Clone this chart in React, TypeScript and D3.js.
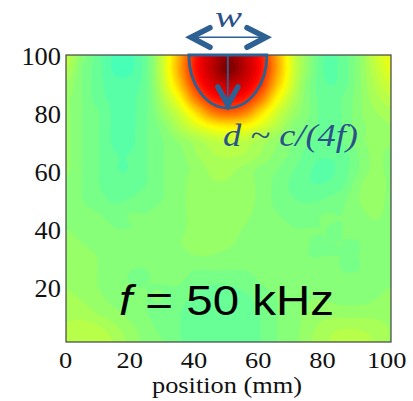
import React from "react";
import * as d3 from "d3";

// ---- data ----
const gridX = [0, 5, 10, 15, 20, 25, 30, 35, 40, 45, 50, 55, 60, 65, 70, 75, 80, 85, 90, 95, 100];
// rows from y = 100 (top) down to y = 0 (bottom), colour-scale value 0..1 (jet)
const gridY = [100, 95, 90, 85, 80, 75, 70, 65, 60, 55, 50, 45, 40, 35, 30, 25, 20, 15, 10, 5, 0];
const field: number[][] = [
  [0.56, 0.51, 0.475, 0.45, 0.45, 0.485, 0.58, 0.71, 0.855, 0.935, 0.98, 0.935, 0.855, 0.71, 0.58, 0.51, 0.465, 0.475, 0.51, 0.57, 0.61],
  [0.55, 0.5, 0.475, 0.45, 0.45, 0.485, 0.58, 0.715, 0.86, 0.94, 1.0, 0.94, 0.86, 0.715, 0.58, 0.51, 0.465, 0.475, 0.51, 0.56, 0.6],
  [0.53, 0.5, 0.475, 0.46, 0.46, 0.485, 0.57, 0.685, 0.83, 0.91, 0.935, 0.91, 0.83, 0.685, 0.57, 0.5, 0.47, 0.475, 0.51, 0.55, 0.58],
  [0.52, 0.5, 0.475, 0.465, 0.465, 0.485, 0.55, 0.63, 0.76, 0.85, 0.87, 0.85, 0.76, 0.63, 0.55, 0.5, 0.475, 0.485, 0.51, 0.54, 0.56],
  [0.52, 0.5, 0.485, 0.465, 0.465, 0.485, 0.53, 0.58, 0.66, 0.75, 0.78, 0.75, 0.66, 0.58, 0.53, 0.5, 0.475, 0.485, 0.51, 0.53, 0.54],
  [0.52, 0.5, 0.485, 0.465, 0.465, 0.485, 0.51, 0.55, 0.59, 0.625, 0.64, 0.625, 0.59, 0.55, 0.51, 0.495, 0.475, 0.485, 0.51, 0.52, 0.53],
  [0.52, 0.5, 0.485, 0.465, 0.465, 0.485, 0.5, 0.52, 0.54, 0.56, 0.57, 0.56, 0.54, 0.52, 0.5, 0.485, 0.475, 0.485, 0.51, 0.52, 0.52],
  [0.52, 0.5, 0.485, 0.47, 0.47, 0.485, 0.5, 0.51, 0.53, 0.545, 0.55, 0.545, 0.53, 0.51, 0.495, 0.475, 0.47, 0.475, 0.5, 0.52, 0.51],
  [0.52, 0.5, 0.485, 0.47, 0.47, 0.485, 0.5, 0.51, 0.52, 0.535, 0.535, 0.525, 0.51, 0.5, 0.485, 0.47, 0.465, 0.475, 0.5, 0.52, 0.51],
  [0.51, 0.5, 0.485, 0.475, 0.475, 0.485, 0.5, 0.51, 0.525, 0.53, 0.53, 0.525, 0.51, 0.495, 0.48, 0.47, 0.47, 0.48, 0.51, 0.53, 0.51],
  [0.51, 0.5, 0.49, 0.48, 0.485, 0.495, 0.5, 0.51, 0.525, 0.53, 0.53, 0.525, 0.51, 0.495, 0.485, 0.48, 0.485, 0.495, 0.515, 0.525, 0.51],
  [0.51, 0.505, 0.5, 0.495, 0.5, 0.5, 0.505, 0.51, 0.525, 0.53, 0.53, 0.52, 0.51, 0.5, 0.495, 0.495, 0.5, 0.5, 0.51, 0.52, 0.51],
  [0.515, 0.51, 0.505, 0.5, 0.5, 0.505, 0.51, 0.51, 0.525, 0.53, 0.525, 0.515, 0.51, 0.505, 0.5, 0.5, 0.5, 0.5, 0.505, 0.51, 0.51],
  [0.52, 0.515, 0.51, 0.505, 0.505, 0.51, 0.51, 0.515, 0.525, 0.525, 0.52, 0.51, 0.51, 0.51, 0.505, 0.5, 0.5, 0.5, 0.5, 0.505, 0.51],
  [0.525, 0.52, 0.515, 0.51, 0.505, 0.505, 0.51, 0.51, 0.515, 0.515, 0.51, 0.51, 0.51, 0.51, 0.505, 0.5, 0.5, 0.5, 0.5, 0.505, 0.51],
  [0.53, 0.525, 0.515, 0.505, 0.5, 0.5, 0.505, 0.505, 0.5, 0.5, 0.5, 0.5, 0.505, 0.51, 0.51, 0.505, 0.505, 0.5, 0.5, 0.505, 0.51],
  [0.53, 0.525, 0.515, 0.505, 0.5, 0.5, 0.5, 0.5, 0.49, 0.485, 0.485, 0.49, 0.5, 0.505, 0.51, 0.51, 0.51, 0.505, 0.505, 0.51, 0.515],
  [0.535, 0.53, 0.52, 0.51, 0.505, 0.5, 0.5, 0.49, 0.48, 0.475, 0.475, 0.48, 0.49, 0.5, 0.51, 0.515, 0.515, 0.51, 0.51, 0.515, 0.52],
  [0.54, 0.54, 0.53, 0.52, 0.51, 0.5, 0.495, 0.485, 0.475, 0.47, 0.47, 0.475, 0.485, 0.5, 0.51, 0.52, 0.525, 0.525, 0.525, 0.525, 0.525],
  [0.55, 0.555, 0.55, 0.535, 0.52, 0.505, 0.495, 0.485, 0.475, 0.47, 0.47, 0.475, 0.485, 0.5, 0.51, 0.525, 0.54, 0.545, 0.545, 0.54, 0.53],
  [0.55, 0.56, 0.56, 0.545, 0.525, 0.51, 0.5, 0.485, 0.475, 0.47, 0.47, 0.475, 0.485, 0.5, 0.51, 0.53, 0.545, 0.555, 0.555, 0.545, 0.53],
];
const xTicks = [0, 20, 40, 60, 80, 100];
const yTicks = [20, 40, 60, 80, 100];
const xLabel = "position (mm)";
const freqLabel = ["f", " = 50 kHz"];
const depthLabel = "d ~ c/(4f)";
const widthLabel = "w";
// annotation geometry in data units (mm)
const spotLeft = 37.8;
const spotRight = 61.8;
const spotCenter = 49.8;
const spotBottom = 81.5;

// ---- layout ----
const W = 413, H = 401;
const L = 66, R = 391, T = 55, B = 342;
const x = d3.scaleLinear().domain([0, 100]).range([L, R]);
const y = d3.scaleLinear().domain([0, 100]).range([B, T]);
const xLab = d3.scaleLinear().domain([0, 100]).range([65.6, 386.7]);
const yLab = d3.scaleLinear().domain([20, 100]).range([288.3, 56.7]);

function jet(t: number) {
  const c = (v: number) => Math.round(255 * Math.max(0, Math.min(1, v)));
  const r = 1.5 - Math.abs(4 * t - 3);
  const g = 1.5 - Math.abs(4 * t - 2);
  const b = 1.5 - Math.abs(4 * t - 1);
  return `rgb(${c(r)},${c(g)},${c(b)})`;
}

function cr(p0: number, p1: number, p2: number, p3: number, t: number) {
  return 0.5 * (2 * p1 + (-p0 + p2) * t + (2 * p0 - 5 * p1 + 4 * p2 - p3) * t * t + (-p0 + 3 * p1 - 3 * p2 + p3) * t * t * t);
}
function sampleField(gx: number, gy: number) {
  const nx = gridX.length, ny = gridY.length;
  const cl = (v: number, n: number) => Math.max(0, Math.min(n - 1, v));
  const ix = Math.floor(gx), iy = Math.floor(gy);
  const fx = gx - ix, fy = gy - iy;
  const rows: number[] = [];
  for (let k = -1; k <= 2; k++) {
    const row = field[cl(iy + k, ny)];
    rows.push(cr(row[cl(ix - 1, nx)], row[cl(ix, nx)], row[cl(ix + 1, nx)], row[cl(ix + 2, nx)], fx));
  }
  return Math.max(0, Math.min(1, cr(rows[0], rows[1], rows[2], rows[3], fy)));
}

const N = 200, M = 200;
function buildRaster() {
  const vals = new Array(N * M);
  const step = 100 / (gridX.length - 1);
  for (let j = 0; j < M; j++) {
    const ymm = 100 - ((j + 0.5) * 100) / M;
    const gy = (100 - ymm) / step;
    for (let i = 0; i < N; i++) {
      const xmm = ((i + 0.5) * 100) / N;
      vals[j * N + i] = sampleField(xmm / step, gy);
    }
  }
  return vals;
}

export default function App() {
  const raster = React.useMemo(buildRaster, []);
  const levels = d3.range(0, 64).map((k) => k / 64);
  const contours = d3.contours().size([N, M]).thresholds(levels)(raster);
  const proj = d3.geoTransform({
    point(px: number, py: number) {
      (this as any).stream.point(L + (px / N) * (R - L), T + (py / M) * (B - T));
    },
  });
  const path = d3.geoPath(proj);
  const blue = "#2e6193";
  const textBlue = "#2b5288";

  const xl = x(spotLeft), xr = x(spotRight), xc = x(spotCenter);
  const rx = (xr - xl) / 2, ry = y(spotBottom) - T;
  const arrowY = 37.3;

  return (
    <div style={{ position: "absolute", left: 0, top: 0 }}>
      <svg width={W} height={H} viewBox={`0 0 ${W} ${H}`}>
        <rect width={W} height={H} fill="#fff" />
        <defs>
          <clipPath id="plotclip">
            <rect x={L} y={T} width={R - L} height={B - T} />
          </clipPath>
        </defs>
        <g clipPath="url(#plotclip)">
          <rect x={L} y={T} width={R - L} height={B - T} fill={jet(0.45)} />
          {contours.map((c, k) => (
            <path key={k} d={path(c as any) || ""} fill={jet(c.value + 1 / 128)} stroke="none" />
          ))}
        </g>
        <rect x={L} y={T} width={R - L} height={B - T} fill="none" stroke="#444" strokeWidth={1.2} />

        {/* y tick labels */}
        {yTicks.map((v) => (
          <text key={v} x={61} y={yLab(v) + 8.5} textAnchor="end" fontFamily="'Liberation Serif', serif" fontSize={25}
            textLength={String(v).length * 13.2} lengthAdjust="spacingAndGlyphs" fill="#111">{v}</text>
        ))}
        {/* x tick labels */}
        {xTicks.map((v) => (
          <text key={v} x={xLab(v)} y={367.5} textAnchor="middle" fontFamily="'Liberation Serif', serif" fontSize={24}
            textLength={String(v).length * 13.2} lengthAdjust="spacingAndGlyphs" fill="#111">{v}</text>
        ))}
        <text x={227} y={393} textAnchor="middle" fontFamily="'Liberation Serif', serif" fontSize={23}
          textLength={150} lengthAdjust="spacingAndGlyphs" fill="#111">{xLabel}</text>

        {/* frequency label */}
        <text x={119} y={315} fontFamily="'Liberation Sans', Arial, sans-serif" fontSize={42} fill="#000"
          textLength={215} lengthAdjust="spacingAndGlyphs">
          <tspan fontStyle="italic">{freqLabel[0]}</tspan>
          <tspan>{freqLabel[1]}</tspan>
        </text>

        {/* depth annotation */}
        <text x={223} y={145.5} fontFamily="'Liberation Serif', serif" fontStyle="italic" fontSize={31} fill={textBlue}
          textLength={135} lengthAdjust="spacingAndGlyphs">{depthLabel}</text>

        {/* width annotation */}
        <text x={228.5} y={27} textAnchor="middle" fontFamily="'Liberation Serif', serif" fontStyle="italic" fontSize={30}
          textLength={27} lengthAdjust="spacingAndGlyphs" fill={textBlue}>{widthLabel}</text>
        <line x1={191} y1={arrowY} x2={266} y2={arrowY} stroke={blue} strokeWidth={1.6} />
        <polyline points={`210,27.7 191,${arrowY} 210,47.3`} fill="none" stroke={blue} strokeWidth={5.5} strokeLinecap="round" strokeLinejoin="miter" />
        <polyline points={`247,27.7 266,${arrowY} 247,47.3`} fill="none" stroke={blue} strokeWidth={5.5} strokeLinecap="round" strokeLinejoin="miter" />

        {/* half ellipse */}
        <path d={`M${xl},${T} A${rx},${ry} 0 0 0 ${xr},${T} Z`} fill="none" stroke={blue} strokeWidth={2.8} />
        {/* down arrow */}
        <line x1={xc} y1={T} x2={xc} y2={y(spotBottom) - 3} stroke={blue} strokeWidth={1.8} />
        <polyline points={`${xc - 10},87 ${xc},105 ${xc + 10},87`} fill="none" stroke={blue} strokeWidth={5.5} strokeLinecap="round" strokeLinejoin="miter" />
      </svg>
    </div>
  );
}
